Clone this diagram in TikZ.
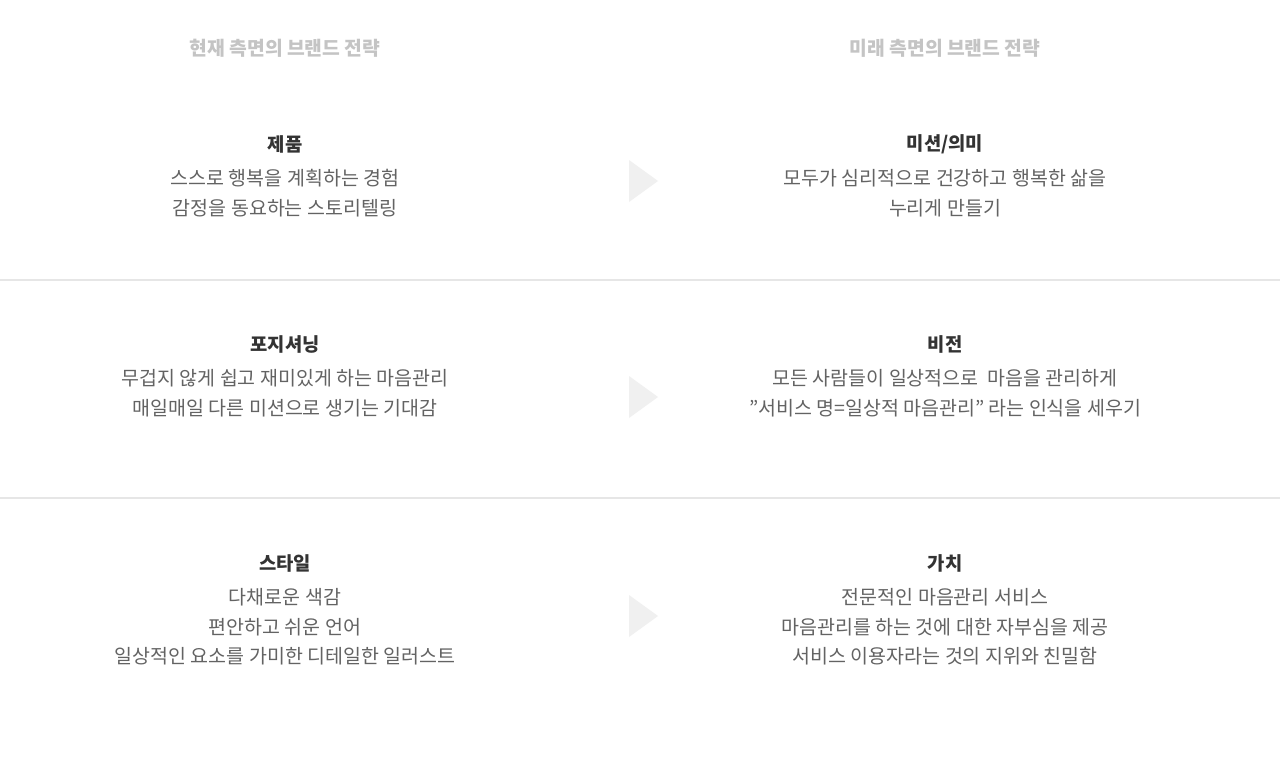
\documentclass[tikz,border=0pt]{standalone}
\usepackage{fontspec}
\setmainfont[Ligatures=ResetAll]{Noto Sans CJK KR}
\definecolor{titlegray}{HTML}{C4C4C4}
\definecolor{headdark}{HTML}{333333}
\definecolor{bodygray}{HTML}{636363}
\definecolor{rulegray}{HTML}{E6E6E6}
\definecolor{arrowgray}{HTML}{F0F0F0}
\begin{document}
\begin{tikzpicture}[x=1pt,y=-1pt,
  coltitle/.style={font=\fontsize{19.3}{22}\selectfont\bfseries, text=titlegray, inner sep=0pt},
  heading/.style={font=\fontsize{18.8}{22}\selectfont\bfseries, text=headdark, inner sep=0pt},
  body/.style={font=\fontsize{19.5}{29.5}\selectfont, text=bodygray, align=center, inner sep=0pt, anchor=north},
  sep/.style={draw=rulegray, line width=2pt},
  tri/.style={fill=arrowgray, draw=none}
]
\useasboundingbox[fill=white] (0,0) rectangle (1280,758);
% column titles
\node[coltitle] (tleft) at (285,48) {현재 측면의 브랜드 전략};
\node[coltitle] (tright) at (945,48) {미래 측면의 브랜드 전략};
% separators
\draw[sep] (0,280) -- (1280,280);
\draw[sep] (0,498) -- (1280,498);
% row 1
\node[heading] (h1l) at (285,144) {제품};
\node[body] (b1l) at (285,169.5) {스스로 행복을 계획하는 경험\\감정을 동요하는 스토리텔링};
\node[heading] (h1r) at (945,144) {미션/의미};
\node[body] (b1r) at (945,169.5) {모두가 심리적으로 건강하고 행복한 삶을\\누리게 만들기};
\fill[tri] (629,160) -- (658,181) -- (629,202) -- cycle;
% row 2
\node[heading] (h2l) at (285,344) {포지셔닝};
\node[body] (b2l) at (285,369.5) {무겁지 않게 쉽고 재미있게 하는 마음관리\\매일매일 다른 미션으로 생기는 기대감};
\node[heading] (h2r) at (945,344) {비전};
\node[body] (b2r) at (945,369.5) {모든 사람들이 일상적으로 ~마음을 관리하게\\"서비스 명=일상적 마음관리” 라는 인식을 세우기};
\fill[tri] (629,376) -- (658,397) -- (629,418) -- cycle;
% row 3
\node[heading] (h3l) at (285,563) {스타일};
\node[body] (b3l) at (285,588.5) {다채로운 색감\\편안하고 쉬운 언어\\일상적인 요소를 가미한 디테일한 일러스트};
\node[heading] (h3r) at (945,563) {가치};
\node[body] (b3r) at (945,588.5) {전문적인 마음관리 서비스\\마음관리를 하는 것에 대한 자부심을 제공\\서비스 이용자라는 것의 지위와 친밀함};
\fill[tri] (629,595) -- (658,616) -- (629,637) -- cycle;
\end{tikzpicture}
\end{document}
